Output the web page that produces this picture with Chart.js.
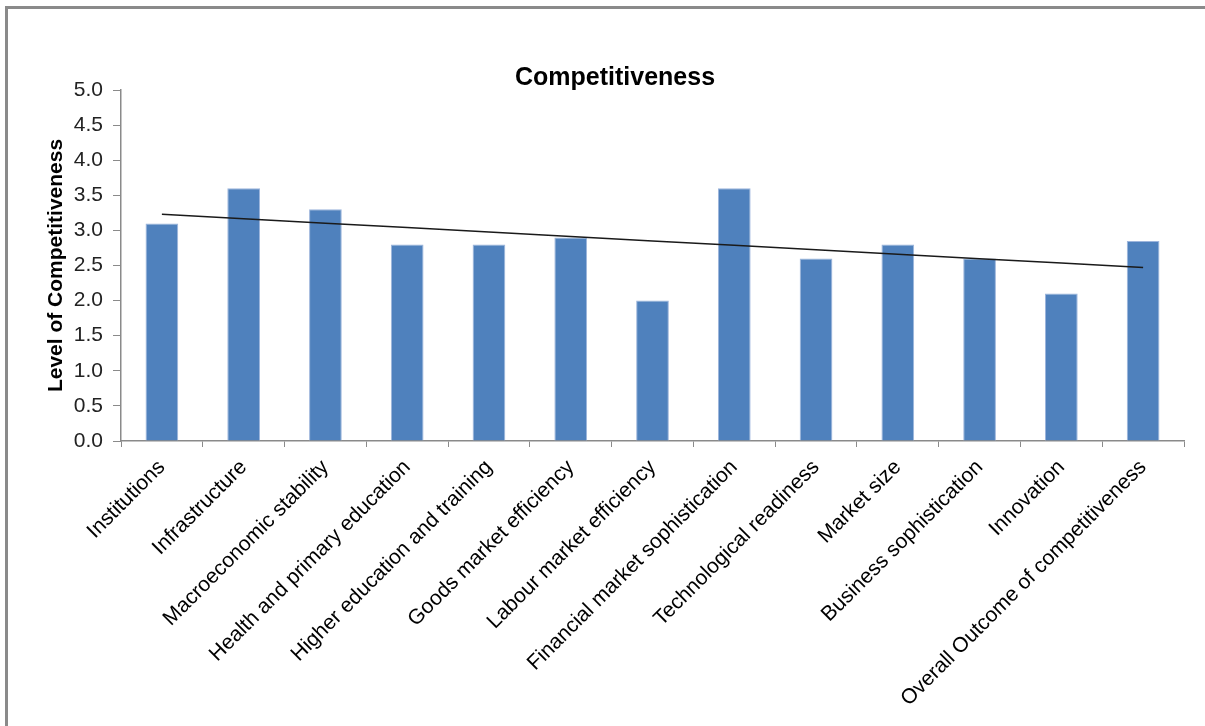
<!DOCTYPE html>
<html>
<head>
<meta charset="utf-8">
<script src="https://cdn.jsdelivr.net/npm/chart.js@4/dist/chart.umd.min.js"></script>
<style>
  html, body { margin: 0; padding: 0; background: #fff; }
  #wrap { position: absolute; left: 0; top: 0; width: 1205px; height: 726px; }
</style>
</head>
<body>
<div id="wrap"><canvas id="chart"></canvas></div>
<script>
var categories = [
  'Institutions', 'Infrastructure', 'Macroeconomic stability',
  'Health and primary education', 'Higher education and training',
  'Goods market efficiency', 'Labour market efficiency',
  'Financial market sophistication', 'Technological readiness',
  'Market size', 'Business sophistication', 'Innovation',
  'Overall Outcome of competitiveness'
];
var scores = [3.1, 3.6, 3.3, 2.8, 2.8, 2.9, 2.0, 3.6, 2.6, 2.8, 2.6, 2.1, 2.85];
var yTicks = [0, 0.5, 1, 1.5, 2, 2.5, 3, 3.5, 4, 4.5, 5];

// linear trend line (least squares over category index), like the Excel trendline
function trend(vals) {
  var n = vals.length, sx = 0, sy = 0, sxy = 0, sxx = 0;
  for (var i = 0; i < n; i++) {
    sx += i; sy += vals[i]; sxy += i * vals[i]; sxx += i * i;
  }
  var b = (n * sxy - sx * sy) / (n * sxx - sx * sx);
  var a = (sy - b * sx) / n;
  return vals.map(function (v, i) { return a + b * i; });
}

var frame = {
  id: 'frame',
  beforeDraw: function (chart) {
    var c = chart.ctx;
    c.save();
    c.fillStyle = '#fff';
    c.fillRect(0, 0, chart.width, chart.height);
    c.fillStyle = '#8a8a8a';
    c.fillRect(5, 6, chart.width - 5, 3);
    c.fillRect(5, 6, 3, chart.height - 6);
    c.restore();
  }
};

Chart.defaults.font.family = '"Liberation Sans", Arial, sans-serif';
Chart.defaults.color = '#000';

var ctx = document.getElementById('chart').getContext('2d');
var myChart = new Chart(ctx, {
  data: {
    labels: categories,
    datasets: [{
      type: 'line',
      label: 'Linear trend',
      data: trend(scores),
      borderColor: '#1a1a1a',
      borderWidth: 1.5,
      pointRadius: 0,
      fill: false,
      order: 0
    }, {
      type: 'bar',
      label: 'Competitiveness',
      data: scores,
      backgroundColor: '#4f81bd',
      borderColor: '#9db5dc',
      borderWidth: 1,
      categoryPercentage: 1,
      barPercentage: 0.4,
      order: 1
    }]
  },
  options: {
    responsive: true,
    maintainAspectRatio: false,
    animation: false,
    layout: { padding: { left: 46, right: 21, top: 0, bottom: 0 } },
    plugins: {
      legend: { display: false },
      tooltip: { enabled: false },
      title: {
        display: true,
        text: 'Competitiveness',
        color: '#000',
        font: { size: 25, weight: 'bold' },
        padding: { top: 63, bottom: -3 }
      }
    },
    scales: {
      x: {
        offset: true,
        grid: {
          offset: true,
          drawOnChartArea: false,
          tickLength: 6,
          tickColor: '#8a8a8a'
        },
        border: { color: '#8a8a8a', width: 1.5 },
        ticks: {
          autoSkip: false,
          minRotation: 45,
          maxRotation: 45,
          padding: 8,
          color: '#000',
          font: { size: 21 }
        },
        afterFit: function (s) { s.height = 285; }
      },
      y: {
        min: 0,
        max: 5,
        afterBuildTicks: function (s) {
          s.ticks = yTicks.map(function (v) { return { value: v }; });
        },
        grid: {
          drawOnChartArea: false,
          tickLength: 8,
          tickColor: '#8a8a8a'
        },
        border: { color: '#8a8a8a', width: 1.5 },
        ticks: {
          padding: 10,
          color: '#222',
          font: { size: 21 },
          callback: function (v) { return Number(v).toFixed(1); }
        },
        title: {
          display: true,
          text: 'Level of Competitiveness',
          color: '#000',
          font: { size: 21, weight: 'bold' },
          padding: { top: -2, bottom: 0 }
        },
        afterFit: function (s) { s.width = 75; }
      }
    }
  },
  plugins: [frame]
});
</script>
</body>
</html>
